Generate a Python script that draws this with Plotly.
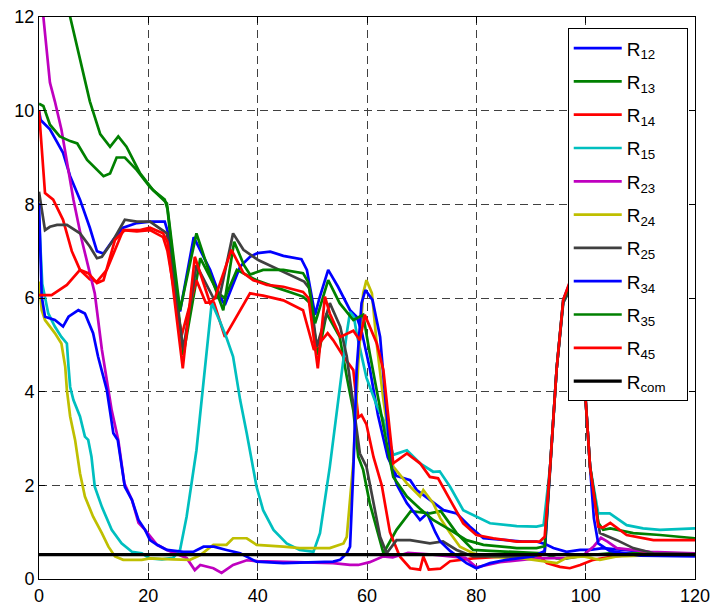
import plotly.graph_objects as go

# ---------------- data ----------------
R12_x = [0, 0.3, 2.0, 4.4, 5.7, 7.5, 9.3, 10.6, 11.8, 13.6, 15.4, 17.9, 20.3, 23.0, 23.6, 25.8, 28.3, 31.3, 33.1, 34.0,
         36.8, 38.6, 40.0, 42.3, 44.7, 48.0, 49.0, 50.5, 51.3, 52.9, 54.7, 56.9, 58.1, 59.0, 60.5, 62.0, 63.8, 65.4,
         67.9, 69.1, 71.5, 74.0, 76.4, 78.8, 81.3, 85.5, 88.5, 91.0, 92.5, 94.1, 96.5, 99.0, 100.8, 103.2, 107.5, 113.6, 120]
R12_y = [10.0, 9.8, 9.6, 9.1, 8.6, 8.1, 7.5, 7.0, 6.95, 7.25, 7.5, 7.6, 7.63, 7.63, 7.4, 5.71, 7.3, 6.6, 6.03, 5.85,
         6.67, 6.88, 6.96, 6.99, 6.9, 6.83, 6.6, 5.64, 6.0, 6.6, 6.24, 5.74, 5.6, 5.3, 4.5, 3.5, 2.6, 2.2,
         2.11, 1.9, 1.69, 1.47, 1.4, 1.12, 0.87, 0.83, 0.8, 0.8, 0.75, 0.66, 0.58, 0.62, 0.62, 0.66, 0.62, 0.55, 0.51]

R13_x = [4.0, 5.7, 7.5, 9.3, 11.2, 13.0, 14.5, 16.0, 18.5, 20.9, 23.0, 23.5, 26.4, 29.5, 32.8, 34.0, 36.2, 39.8, 44.0,
         48.3, 49.5, 51.1, 52.6, 55.0, 56.3, 57.5, 58.4, 59.3, 60.5, 62.4, 63.0, 65.4, 68.0, 71.5, 73.5, 76.4, 79.4,
         82.5, 87.4, 92.2, 94.7, 96.5, 99.6, 104.4, 110, 120]
R13_y = [13.0, 12.0, 11.1, 10.2, 9.5, 9.23, 9.45, 9.23, 8.66, 8.3, 8.1, 7.9, 4.78, 6.85, 6.1, 6.0, 6.6, 6.38, 6.2,
         6.03, 5.9, 4.78, 5.67, 5.17, 4.32, 3.6, 2.61, 2.33, 1.62, 0.76, 0.55, 1.05, 1.45, 1.4, 1.45, 0.98, 0.62,
         0.6, 0.58, 0.55, 0.44, 0.44, 0.5, 0.55, 0.55, 0.55]

R14_x = [0, 0.5, 1.1, 2.6, 4.4, 6.0, 7.5, 9.3, 10.6, 12.4, 15.4, 17.9, 20.3, 22.7, 23.5, 26.1, 28.8, 30.5, 32.0, 34.0,
         36.8, 38.6, 41.0, 44.7, 48.3, 50.3, 52.8, 53.8, 55.7, 57.5, 58.4, 59.0, 59.9, 61.2, 62.7, 64.2, 66.0, 67.9,
         69.7, 70.3, 71.3, 73.4, 75.2, 79.4, 85.5, 91.6, 92.9, 95.3, 97.1, 99.0, 101.4, 104.4, 107.5, 112, 120]
R14_y = [10.0, 9.16, 8.24, 8.1, 7.67, 7.0, 6.6, 6.4, 6.35, 6.6, 7.45, 7.42, 7.45, 7.3, 7.0, 5.2, 6.38, 5.9, 5.9, 5.17,
         5.74, 6.1, 6.05, 5.95, 5.74, 4.89, 5.25, 5.1, 4.75, 4.46, 3.45, 3.5, 3.3, 2.6, 2.0, 1.0, 0.48, 0.23,
         0.2, 0.48, 0.2, 0.22, 0.38, 0.44, 0.48, 0.48, 0.34, 0.26, 0.23, 0.3, 0.41, 0.47, 0.51, 0.55, 0.55]

R15_x = [0, 0.6, 1.7, 2.9, 4.1, 5.1, 5.4, 5.7, 6.3, 7.5, 8.4, 9.0, 9.6, 10.2, 11.5, 13.3, 15.1, 17.0, 18.8, 20.3, 22.5,
         24.5, 25.8, 27.0, 28.8, 30.7, 31.6, 33.1, 34.3, 35.5, 36.8, 38.0, 39.8, 41.0, 42.9, 45.3, 47.7, 50.2, 51.4,
         53.2, 55.1, 56.3, 56.9, 57.6, 58.1, 59.9, 61.8, 63.0, 64.8, 66.6, 67.3, 69.7, 72.1, 73.3, 75.2, 77.6, 80.0,
         82.5, 87.4, 91.0, 92.3, 93.5, 94.7, 95.9, 97.2, 98.5, 99.6, 100.8, 102.3, 104.4, 107.5, 110.5, 113.6, 120]
R15_y = [7.7, 6.3, 5.67, 5.39, 5.17, 5.03, 4.53, 4.1, 3.82, 3.47, 3.04, 2.97, 2.61, 1.97, 1.54, 1.05, 0.76, 0.58, 0.55,
         0.44, 0.42, 0.45, 0.62, 1.33, 2.75, 4.89, 5.9, 5.5, 5.15, 4.75, 3.82, 3.11, 1.97, 1.47, 1.05, 0.76, 0.62,
         0.58, 0.98, 2.4, 4.18, 5.25, 5.7, 5.6, 5.25, 4.3, 3.7, 3.4, 2.65, 2.72, 2.75, 2.47, 2.29, 2.3, 1.97, 1.47,
         1.33, 1.19, 1.13, 1.12, 1.15, 2.4, 4.5, 5.9, 6.2, 6.1, 4.5, 2.4, 1.4, 1.4, 1.15, 1.08, 1.05, 1.08]

R23_x = [0, 0.8, 2.0, 2.9, 4.1, 5.1, 6.3, 7.8, 9.0, 10.2, 11.5, 13.3, 14.5, 15.6, 17.0, 18.2, 19.4, 21.6, 23.4, 25.0,
         27.0, 28.5, 29.5, 31.9, 33.4, 35.5, 38.0, 40.0, 45.0, 50.0, 53.8, 56.9, 58.4, 60.5, 62.9, 64.7, 67.5, 72.0,
         75.2, 78.0, 80.0, 82.0, 84.3, 91.0, 96.5, 99.5, 101.5, 102.8, 104.0, 105.7, 111.8, 120]
R23_y = [13.5, 12.0, 10.6, 10.2, 9.6, 8.95, 8.1, 7.25, 6.67, 6.1, 4.9, 3.6, 2.97, 2.05, 1.69, 1.2, 1.05, 0.73, 0.62,
         0.55, 0.45, 0.19, 0.3, 0.23, 0.13, 0.3, 0.4, 0.38, 0.37, 0.36, 0.34, 0.3, 0.3, 0.36, 0.48, 0.46, 0.56, 0.52,
         0.48, 0.45, 0.25, 0.3, 0.36, 0.44, 0.45, 0.5, 0.7, 0.88, 0.8, 0.66, 0.58, 0.55]

R24_x = [0, 0.5, 1.1, 2.9, 4.1, 4.8, 5.1, 5.7, 6.6, 7.5, 8.4, 9.9, 11.5, 12.7, 13.9, 15.4, 18.8, 20.3, 24.5, 27.6,
         29.5, 31.9, 34.3, 35.5, 38.0, 39.8, 44.7, 47.7, 53.2, 55.7, 56.3, 57.5, 58.4, 59.3, 59.9, 60.9, 61.8, 63.0,
         64.8, 67.3, 69.7, 70.3, 72.1, 73.4, 75.2, 77.0, 79.4, 83.0, 88.5, 92.9, 94.7, 96.5, 99.6, 102.6, 105.7, 110, 120]
R24_y = [6.35, 5.74, 5.53, 5.25, 5.03, 4.53, 4.04, 3.47, 2.97, 2.26, 1.76, 1.33, 0.98, 0.69, 0.48, 0.41, 0.41, 0.44,
         0.42, 0.41, 0.51, 0.73, 0.73, 0.87, 0.87, 0.73, 0.69, 0.66, 0.66, 0.76, 0.9, 2.5, 4.6, 6.1, 6.38, 6.1, 5.0,
         3.82, 2.4, 2.04, 1.76, 1.9, 1.62, 1.3, 0.98, 0.69, 0.55, 0.47, 0.44, 0.37, 0.34, 0.45, 0.48, 0.41, 0.48, 0.5, 0.52]

R25_x = [0, 1.1, 2.0, 3.3, 5.1, 7.5, 9.3, 10.6, 11.5, 13.6, 15.7, 17.9, 20.3, 22.7, 23.4, 26.4, 28.8, 31.9, 33.0,
         35.5, 37.4, 40.1, 44.7, 48.5, 49.5, 50.8, 53.2, 55.1, 56.3, 57.5, 58.7, 59.9, 61.2, 62.4, 63.6, 65.4, 67.9,
         71.5, 73.9, 76.4, 79.4, 84.3, 90.4, 92.5, 93.5, 94.7, 95.9, 97.2, 98.5, 99.6, 100.8, 102.6, 105.7, 108.7, 112.4, 120]
R25_y = [8.27, 7.45, 7.52, 7.56, 7.56, 7.38, 7.1, 6.85, 6.88, 7.24, 7.67, 7.63, 7.63, 7.45, 7.38, 4.9, 6.7, 6.0, 6.0,
         7.38, 7.03, 6.81, 6.56, 6.35, 6.2, 4.96, 5.89, 5.39, 4.75, 3.75, 2.68, 2.4, 1.62, 0.9, 0.55, 0.83, 0.83,
         0.76, 0.8, 0.62, 0.48, 0.48, 0.48, 0.55, 2.4, 4.5, 5.9, 6.2, 6.1, 4.5, 2.4, 0.98, 0.83, 0.66, 0.55, 0.53]

R34_x = [0, 0.5, 1.1, 2.9, 4.4, 5.4, 7.2, 8.4, 9.9, 10.8, 12.4, 13.6, 14.4, 15.7, 17.0, 18.2, 19.4, 20.3, 21.6, 23.4,
         26.4, 28.2, 30.1, 32.0, 34.3, 36.8, 38.6, 39.8, 44.7, 50.8, 53.8, 55.1, 56.3, 56.9, 57.5, 58.1, 59.0, 59.7,
         61.0, 62.4, 63.9, 64.6, 65.5, 67.3, 69.7, 71.0, 72.5, 73.4, 75.2, 78.2, 80.0, 82.5, 85.5, 90.4, 92.5, 93.5,
         94.7, 95.9, 97.2, 98.5, 99.6, 100.8, 101.5, 102.3, 104.4, 110, 120]
R34_y = [8.03, 6.03, 5.6, 5.53, 5.39, 5.6, 5.74, 5.67, 5.25, 4.75, 4.04, 3.11, 2.97, 1.97, 1.69, 1.26, 1.05, 0.83,
         0.73, 0.62, 0.58, 0.58, 0.69, 0.69, 0.62, 0.55, 0.44, 0.37, 0.34, 0.37, 0.37, 0.41, 0.55, 0.69, 2.33, 4.46,
         5.89, 6.17, 5.96, 5.17, 3.1, 2.33, 2.0, 1.62, 1.26, 1.4, 1.0, 0.8, 0.6, 0.34, 0.23, 0.34, 0.41, 0.48, 0.6,
         2.4, 4.5, 5.96, 6.35, 6.25, 4.53, 2.4, 1.3, 0.76, 0.6, 0.5, 0.48]

R35_x = [0, 0.8, 2.0, 3.8, 5.7, 7.0, 8.8, 11.8, 13.0, 14.2, 15.7, 17.9, 20.3, 22.1, 23.4, 25.8, 28.8, 31.0, 32.5,
         33.7, 35.7, 37.5, 38.6, 41.0, 44.7, 48.3, 49.2, 50.5, 52.9, 55.0, 57.5, 59.3, 60.5, 62.4, 63.6, 64.8, 67.3,
         69.7, 72.1, 75.2, 78.2, 81.3, 87.4, 91.0, 92.5, 93.5, 94.7, 95.9, 97.2, 98.5, 99.6, 100.8, 102.3, 103.2,
         104.5, 108.7, 113.6, 120]
R35_y = [10.15, 10.1, 9.7, 9.45, 9.35, 9.3, 8.95, 8.6, 8.66, 9.0, 9.0, 8.73, 8.37, 8.16, 8.02, 5.74, 7.38, 6.6, 6.1,
         5.74, 7.2, 6.7, 6.5, 6.6, 6.6, 6.53, 6.35, 5.46, 6.38, 5.89, 5.53, 5.64, 4.82, 3.6, 2.9, 2.18, 1.76,
         1.5, 1.26, 1.05, 0.83, 0.73, 0.66, 0.66, 0.7, 2.4, 4.5, 5.96, 6.3, 6.1, 4.53, 2.4, 1.2, 1.05,
         1.08, 0.98, 0.94, 0.87]

R45_x = [0, 2.3, 5.1, 7.5, 9.0, 10.6, 11.8, 13.9, 15.7, 18.5, 20.3, 22.7, 23.5, 26.3, 28.5, 31.3, 32.2, 35.2, 37.4,
         39.2, 41.7, 44.7, 48.3, 49.3, 51.0, 52.3, 53.2, 55.1, 57.5, 58.7, 59.6, 61.8, 63.0, 64.8, 67.3, 69.7, 71.5,
         73.0, 75.2, 77.6, 80.0, 83.1, 87.4, 91.6, 92.5, 93.5, 94.7, 95.9, 97.2, 98.5, 99.6, 100.8, 102.3, 103.2,
         104.5, 107.5, 112.4, 120]
R45_y = [6.06, 6.06, 6.28, 6.6, 6.53, 6.32, 6.38, 7.24, 7.45, 7.45, 7.5, 7.38, 7.2, 4.5, 6.88, 5.89, 6.0, 7.03, 6.53,
         6.38, 6.28, 6.24, 6.13, 6.0, 4.5, 6.03, 5.67, 5.17, 5.3, 5.1, 5.64, 5.03, 4.46, 2.47, 2.68, 2.47, 2.18,
         2.15, 1.69, 1.19, 0.94, 0.87, 0.8, 0.8, 0.9, 2.4, 4.5, 5.96, 6.38, 6.25, 4.53, 2.4, 1.12, 1.1,
         1.2, 0.94, 0.83, 0.83]

Rcom_x = [0, 120]
Rcom_y = [0.52, 0.52]

labels = ["12", "13", "14", "15", "23", "24", "25", "34", "35", "45", "com"]
colors = ["#0000FF", "#008000", "#FF0000", "#00BFBF", "#BF00BF", "#BFBF00", "#404040",
          "#0000FF", "#008000", "#FF0000", "#000000"]
xs_all = [R12_x, R13_x, R14_x, R15_x, R23_x, R24_x, R25_x, R34_x, R35_x, R45_x, Rcom_x]
ys_all = [R12_y, R13_y, R14_y, R15_y, R23_y, R24_y, R25_y, R34_y, R35_y, R45_y, Rcom_y]

x_ticks = [0, 20, 40, 60, 80, 100, 120]
y_ticks = [0, 2, 4, 6, 8, 10, 12]

fig = go.Figure()
for i, (lab, xs, ys, col) in enumerate(zip(labels, xs_all, ys_all, colors)):
    name = "R<sub>" + lab + "</sub>" + "&nbsp;" * 3
    fig.add_trace(go.Scatter(
        x=xs, y=ys, mode="lines", name=name,
        line=dict(color=col, width=3.2 if lab == "com" else 2.7),
        legendgroup=f"g{i}",
    ))

axis_common = dict(
    showline=True, linecolor="black", linewidth=1, mirror="ticks",
    ticks="inside", ticklen=6, tickcolor="black", tickwidth=1,
    showgrid=True, gridcolor="#404040", gridwidth=1, griddash="8px,5px",
    zeroline=False, automargin=False,
    tickfont=dict(family="Liberation Sans, Arial", size=18, color="black"),
)
fig.update_xaxes(range=[0, 120], tickvals=x_ticks, **axis_common)
fig.update_yaxes(range=[0, 12], tickvals=y_ticks, **axis_common)

fig.update_layout(
    width=714, height=610,
    margin=dict(l=39, r=19, t=17, b=31),
    paper_bgcolor="white", plot_bgcolor="white",
    font=dict(family="Liberation Sans, Arial", size=18, color="black"),
    legend=dict(
        x=0.806, y=0.98, xanchor="left", yanchor="top",
        bgcolor="white", bordercolor="black", borderwidth=1,
        font=dict(size=19), traceorder="grouped", tracegroupgap=5.6,
        itemwidth=48,
    ),
)

fig.write_html("out.html")
